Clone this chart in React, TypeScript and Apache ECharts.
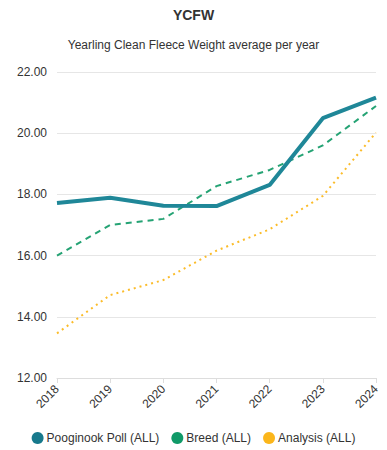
import React, { useEffect, useRef } from "react";
import * as echarts from "echarts";

const years = ["2018", "2019", "2020", "2021", "2022", "2023", "2024"];
const pooginook = [17.72, 17.89, 17.63, 17.62, 18.31, 20.49, 21.16];
const breed = [16.0, 17.0, 17.2, 18.27, 18.8, 19.6, 20.89];
const analysis = [13.46, 14.71, 15.2, 16.16, 16.86, 17.95, 20.02];
const yTicks = { min: 12, max: 22, interval: 2 };

export default function App() {
  const ref = useRef<HTMLDivElement>(null);
  useEffect(() => {
    if (!ref.current) return;
    const chart = echarts.init(ref.current, undefined, { renderer: "svg" });
    const font = "Liberation Sans, Arial, sans-serif";
    chart.setOption({
      animation: false,
      textStyle: { fontFamily: font },
      title: [
        {
          text: "YCFW",
          left: "center",
          top: 3,
          textStyle: { fontSize: 14, fontWeight: "bold", color: "#333", fontFamily: font },
        },
        {
          text: "Yearling Clean Fleece Weight average per year",
          left: "center",
          top: 34,
          textStyle: { fontSize: 12, fontWeight: "normal", color: "#333", fontFamily: font },
        },
      ],
      legend: {
        bottom: 1,
        left: "center",
        icon: "circle",
        itemWidth: 12,
        itemHeight: 12,
        itemGap: 12,
        textStyle: { fontSize: 12, color: "#333", fontFamily: font, padding: [0, 0, 0, -2] },
        data: ["Pooginook Poll (ALL)", "Breed (ALL)", "Analysis (ALL)"],
      },
      grid: { left: 57, right: 11, top: 72, bottom: 72 },
      xAxis: {
        type: "category",
        data: years,
        boundaryGap: false,
        axisLine: { lineStyle: { color: "#ddd" } },
        axisTick: { show: true, alignWithLabel: true, lineStyle: { color: "#ddd" } },
        axisLabel: { rotate: 45, fontSize: 12, color: "#333", margin: 9, fontFamily: font },
      },
      yAxis: {
        type: "value",
        min: yTicks.min,
        max: yTicks.max,
        interval: yTicks.interval,
        axisLabel: {
          fontSize: 12,
          color: "#333",
          margin: 10,
          fontFamily: font,
          formatter: (v: number) => v.toFixed(2),
        },
        splitLine: { lineStyle: { color: "#e6e6e6", width: 1 } },
        axisLine: { show: false },
        axisTick: { show: false },
      },
      series: [
        {
          name: "Pooginook Poll (ALL)",
          type: "line",
          data: pooginook,
          showSymbol: false,
          symbol: "none",
          color: "#17798c",
          lineStyle: { width: 4, color: "#1f8798" },
          z: 3,
        },
        {
          name: "Breed (ALL)",
          type: "line",
          data: breed,
          showSymbol: false,
          symbol: "none",
          color: "#109a68",
          lineStyle: { width: 2, type: [6, 5], color: "#25a374" },
          z: 2,
        },
        {
          name: "Analysis (ALL)",
          type: "line",
          data: analysis,
          showSymbol: false,
          symbol: "none",
          color: "#fbb61b",
          lineStyle: { width: 2, type: [2, 4], color: "#fbbc2a" },
          z: 1,
        },
      ],
    });
    return () => chart.dispose();
  }, []);
  return (
    <div
      ref={ref}
      style={{ position: "fixed", left: 0, top: 0, width: 387, height: 450, background: "#fff" }}
    />
  );
}
